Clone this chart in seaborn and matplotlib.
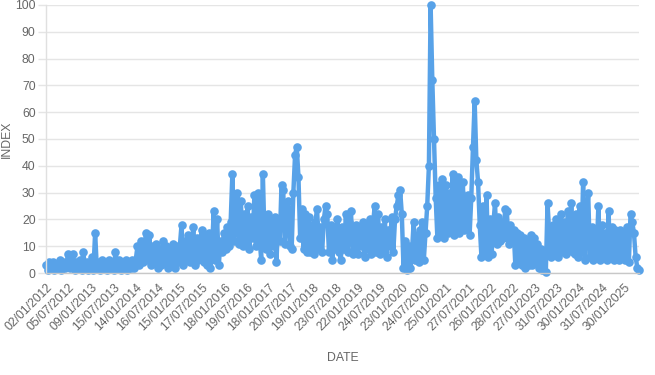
import seaborn as sns
import matplotlib.pyplot as plt
import pandas as pd

# index values, one every two weeks
values_2012 = [3, 1, 4, 2, 4, 1, 3, 2, 5, 1, 4, 2, 3, 7, 2, 4, 7, 1, 4, 2, 5, 1, 8, 2, 4, 1]
values_2013 = [2, 6, 1, 15, 2, 4, 1, 5, 2, 4, 1, 5, 2, 4, 1, 8, 3, 5, 1, 4, 2, 5, 1, 4, 2, 5]
values_2014 = [2, 5, 10, 3, 12, 4, 9, 15, 5, 14, 3, 10, 4, 11, 2, 9, 3, 12, 4, 10, 2, 9, 3, 11, 2, 10]
values_2015 = [4, 10, 18, 3, 12, 5, 14, 4, 11, 17, 3, 13, 5, 12, 16, 4, 14, 3, 15, 2, 9, 23, 5, 20, 3, 12]
values_2016 = [8, 15, 9, 17, 10, 19, 37, 12, 24, 30, 11, 27, 10, 22, 12, 25, 9, 21, 13, 29, 10, 30, 14, 5, 37, 12]
values_2017 = [9, 22, 7, 20, 10, 21, 4, 19, 12, 33, 31, 11, 24, 27, 10, 9, 30, 44, 47, 36, 13, 24, 9, 22, 8, 21]
values_2018 = [8, 18, 7, 19, 24, 9, 17, 8, 20, 25, 22, 8, 18, 5, 16, 9, 20, 8, 5, 17, 9, 22, 8, 19, 23, 7]
values_2019 = [9, 18, 7, 16, 10, 19, 6, 17, 9, 20, 7, 18, 25, 8, 22, 7, 17, 9, 20, 6, 16, 10, 21, 8, 20, 25]
values_2020 = [29, 31, 22, 2, 12, 1, 10, 2, 8, 19, 5, 14, 4, 16, 19, 5, 15, 25, 40, 100, 72, 50, 28, 13, 33, 14]
values_2021 = [35, 13, 33, 15, 30, 16, 37, 14, 28, 36, 15, 30, 34, 16, 25, 29, 14, 28, 47, 64, 42, 34, 18, 6, 25, 8]
values_2022 = [29, 6, 20, 7, 18, 26, 11, 21, 12, 19, 13, 24, 23, 11, 18, 12, 16, 3, 15, 4, 14, 3, 13, 2, 12, 3]
values_2023 = [14, 3, 13, 4, 11, 2, 9, 1, 8, 0.5, 26, 15, 6, 18, 7, 20, 6, 17, 22, 8, 19, 7, 23, 9, 26, 8]
values_2024 = [7, 22, 6, 25, 8, 34, 5, 18, 30, 6, 17, 5, 16, 7, 25, 5, 18, 6, 15, 5, 23, 6, 17, 5, 16, 6]
values_2025 = [5, 16, 6, 15, 5, 17, 4, 22, 19, 15, 6, 2, 1]

tick_labels = ["02/01/2012", "05/07/2012", "09/01/2013", "15/07/2013", "14/01/2014",
               "16/07/2014", "15/01/2015", "17/07/2015", "18/01/2016", "19/07/2016",
               "18/01/2017", "20/07/2017", "19/01/2018", "23/07/2018", "22/01/2019",
               "24/07/2019", "23/01/2020", "24/07/2020", "25/01/2021", "27/07/2021",
               "26/01/2022", "28/07/2022", "27/01/2023", "31/07/2023", "30/01/2024",
               "31/07/2024", "30/01/2025"]

values = (values_2012 + values_2013 + values_2014 + values_2015 + values_2016
          + values_2017 + values_2018 + values_2019 + values_2020 + values_2021
          + values_2022 + values_2023 + values_2024 + values_2025)
dates = pd.date_range("2012-01-02", periods=len(values), freq="14D")
df = pd.DataFrame({"DATE": dates, "INDEX": values})

sns.set_theme(style="whitegrid")
plt.rcParams['font.family'] = ['Liberation Sans', 'DejaVu Sans']

fig = plt.figure(figsize=(6.55, 3.75), dpi=100)
ax = fig.add_axes([0.0702, 0.272, 0.9054, 0.7147])

sns.lineplot(data=df, x="DATE", y="INDEX", color="#58a2e8", linewidth=3.2,
             marker="o", markersize=6.2, markeredgewidth=0, ax=ax)
for ln in ax.lines:
    ln.set_clip_on(False)
    ln.set_solid_joinstyle("round")

ax.set_ylim(0, 100)
ax.set_yticks(range(0, 101, 10))
ax.set_xlim(dates[0], dates[-1])
ax.set_xticks(pd.to_datetime(tick_labels, format="%d/%m/%Y"))
ax.set_xticklabels(tick_labels, rotation=45, ha="right", rotation_mode="anchor")

ax.grid(axis="x", visible=False)
ax.grid(axis="y", color="#e5e5e5", linewidth=1)
ax.set_facecolor("white")
for side in ["top", "right"]:
    ax.spines[side].set_visible(False)
ax.spines["left"].set_color("#e0e0e0")
ax.spines["bottom"].set_color("#c8c8c8")
ax.spines["left"].set_linewidth(1)
ax.spines["bottom"].set_linewidth(1)

ax.tick_params(axis="y", length=6, width=1, color="#e5e5e5", pad=1.5,
               labelsize=8.8, labelcolor="#666666", left=True)
ax.tick_params(axis="x", length=0, pad=6, labelsize=8.8, labelcolor="#666666")

ax.set_xlabel("DATE", fontsize=8.8, color="#666666")
ax.set_ylabel("INDEX", fontsize=8.8, color="#666666")
ax.xaxis.set_label_coords(0.5, -0.295)
ax.yaxis.set_label_coords(-0.056, 0.5)

fig.savefig("out.png", dpi=100)
